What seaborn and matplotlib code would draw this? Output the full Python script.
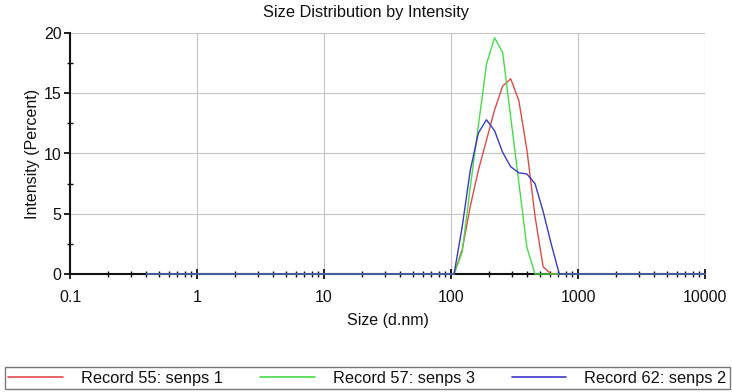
import numpy as np
import pandas as pd
import matplotlib
matplotlib.use("Agg")
import matplotlib.pyplot as plt
import seaborn as sns
from matplotlib.ticker import LogLocator, MultipleLocator, FuncFormatter, NullFormatter, FixedLocator

# ---- data -------------------------------------------------------------
sizes = [
    0.4, 0.4632, 0.5365, 0.6213, 0.7195, 0.8332, 0.9649, 1.117, 1.294, 1.499,
    1.736, 2.010, 2.328, 2.696, 3.122, 3.615, 4.187, 4.849, 5.615, 6.503,
    7.531, 8.721, 10.10, 11.70, 13.54, 15.69, 18.17, 21.04, 24.36, 28.21,
    32.67, 37.84, 43.82, 50.75, 58.77, 68.06, 78.82, 91.28, 105.7, 122.4,
    141.8, 164.2, 190.1, 220.2, 255.0, 295.3, 342.0, 396.1, 458.7, 531.2,
    615.1, 712.4, 825.0, 955.4, 1106, 1281, 1484, 1718, 1990, 2305,
    2669, 3091, 3580, 4145, 4801, 5560, 6439, 7456, 8635, 10000,
]

record55 = [
    0, 0, 0, 0, 0, 0, 0, 0, 0, 0,
    0, 0, 0, 0, 0, 0, 0, 0, 0, 0,
    0, 0, 0, 0, 0, 0, 0, 0, 0, 0,
    0, 0, 0, 0, 0, 0, 0, 0, 0, 2.0,
    5.6, 8.6, 11.1, 13.6, 15.6, 16.2, 14.4, 10.3, 4.8, 0.6,
    0, 0, 0, 0, 0, 0, 0, 0, 0, 0,
    0, 0, 0, 0, 0, 0, 0, 0, 0, 0,
]

record57 = [
    0, 0, 0, 0, 0, 0, 0, 0, 0, 0,
    0, 0, 0, 0, 0, 0, 0, 0, 0, 0,
    0, 0, 0, 0, 0, 0, 0, 0, 0, 0,
    0, 0, 0, 0, 0, 0, 0, 0, 0, 1.8,
    7.2, 12.3, 17.4, 19.6, 18.4, 13.0, 7.6, 2.2, 0, 0,
    0, 0, 0, 0, 0, 0, 0, 0, 0, 0,
    0, 0, 0, 0, 0, 0, 0, 0, 0, 0,
]

record62 = [
    0, 0, 0, 0, 0, 0, 0, 0, 0, 0,
    0, 0, 0, 0, 0, 0, 0, 0, 0, 0,
    0, 0, 0, 0, 0, 0, 0, 0, 0, 0,
    0, 0, 0, 0, 0, 0, 0, 0, 0, 3.9,
    8.6, 11.7, 12.8, 11.9, 10.1, 8.9, 8.4, 8.3, 7.5, 5.2,
    2.5, 0, 0, 0, 0, 0, 0, 0, 0, 0,
    0, 0, 0, 0, 0, 0, 0, 0, 0, 0,
]

record_labels = ["Record 55: senps 1", "Record 57: senps 3", "Record 62: senps 2"]
record_colors = ["#e24a4a", "#47dc47", "#3b3bc6"]

x_ticks = [0.1, 1, 10, 100, 1000, 10000]
y_ticks = [0, 5, 10, 15, 20]

df = pd.DataFrame({
    "Size": sizes * 3,
    "Intensity": record55 + record57 + record62,
    "Record": [record_labels[0]] * len(sizes)
              + [record_labels[1]] * len(sizes)
              + [record_labels[2]] * len(sizes),
})

# ---- style ------------------------------------------------------------
sns.set_style("white")
plt.rcParams["font.family"] = ["Liberation Sans", "DejaVu Sans"]
plt.rcParams["text.color"] = "#111111"
plt.rcParams["axes.labelcolor"] = "#111111"
plt.rcParams["xtick.color"] = "#111111"
plt.rcParams["ytick.color"] = "#111111"

fig = plt.figure(figsize=(7.32, 3.92), dpi=100)
ax = fig.add_axes([70 / 732, 1 - 274 / 392, 635 / 732, 241 / 392])
ax.set_xscale("log")

sns.lineplot(
    data=df, x="Size", y="Intensity", hue="Record",
    hue_order=record_labels,
    palette=dict(zip(record_labels, record_colors)),
    estimator=None, sort=False, linewidth=1.0, ax=ax,
)
for ln in ax.lines:
    ln.set_zorder(3)
    ln.set_clip_on(False)

ax.set_xlim(x_ticks[0], x_ticks[-1])
ax.set_ylim(y_ticks[0], y_ticks[-1])

ax.xaxis.set_major_locator(FixedLocator(x_ticks))
ax.xaxis.set_minor_locator(LogLocator(base=10, subs=np.arange(2, 10), numticks=50))
ax.xaxis.set_major_formatter(FuncFormatter(lambda v, p: f"{v:g}"))
ax.xaxis.set_minor_formatter(NullFormatter())
ax.yaxis.set_major_locator(FixedLocator(y_ticks))
ax.yaxis.set_minor_locator(MultipleLocator(2.5))

ax.grid(True, which="major", color="#c4c4c4", linewidth=0.8)
ax.set_axisbelow(True)

for s in ["top", "right"]:
    ax.spines[s].set_visible(False)
for s in ["left", "bottom"]:
    ax.spines[s].set_color("#111111")
    ax.spines[s].set_linewidth(1.5)

ax.tick_params(axis="x", which="both", bottom=True, top=False)
ax.tick_params(axis="y", which="both", left=True, right=False)
ax.tick_params(axis="x", which="major", direction="inout", length=7, width=1.3,
               labelsize=11.5, pad=8)
ax.tick_params(axis="x", which="minor", direction="inout", length=4, width=1.0)
ax.tick_params(axis="y", which="major", direction="out", length=4, width=1.3,
               labelsize=11.5, pad=2)
ax.tick_params(axis="y", which="minor", direction="inout", length=5, width=1.0)

ax.set_xlabel("Size (d.nm)", fontsize=11.5)
ax.set_ylabel("Intensity (Percent)", fontsize=11.5)
ax.xaxis.set_label_coords(0.5, (274 - 313) / 241)
ax.yaxis.set_label_coords((40 - 70) / 635, 0.5)

fig.text(366 / 732, 1 - 12 / 392, "Size Distribution by Intensity",
         ha="center", va="center", fontsize=11.8)

handles, labs = ax.get_legend_handles_labels()
ax.get_legend().remove()
for h in handles:
    h.set_linewidth(1.2)
leg = fig.legend(
    handles, labs, loc="lower left",
    bbox_to_anchor=(5 / 732, 1 - 389 / 392, 725 / 732, 23 / 392),
    mode="expand", ncol=3, borderaxespad=0, borderpad=0.2,
    handlelength=3.35, handletextpad=1.1, columnspacing=2.3,
    fancybox=False, frameon=True, fontsize=11.8,
)
leg.get_frame().set_edgecolor("#7a7a7a")
leg.get_frame().set_linewidth(1.0)
leg.get_frame().set_alpha(1)

fig.savefig("out.png", dpi=100)
